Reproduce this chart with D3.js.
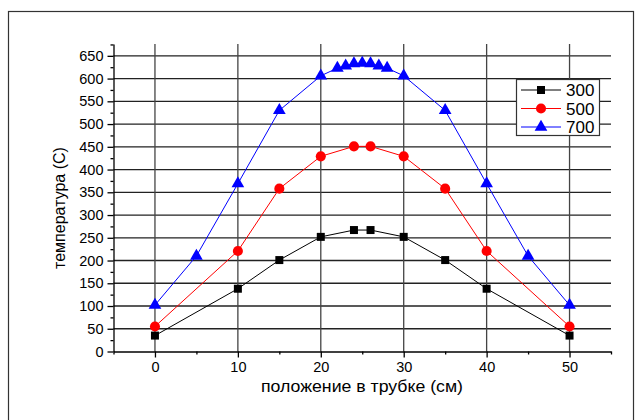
<!DOCTYPE html>
<html><head><meta charset="utf-8">
<script src="https://cdn.jsdelivr.net/npm/d3@7"></script>
<style>body{margin:0;background:#fff}svg{display:block}</style>
</head><body>
<script>
const xs300 = [0,10,15,20,24,26,30,35,40,50];
const ys300 = [35,138,201,252,267,267,252,201,138,35];
const xs500 = [0,10,15,20,24,26,30,35,40,50];
const ys500 = [55,221,358,429,451,451,429,358,221,55];
const xs700 = [0,5,10,15,20,22,23,24,25,26,27,28,30,35,40,45,50];
const ys700 = [102,210,369,530,606,623,628,633,634,633,628,623,606,530,369,210,102];
const seriesNames = ["300","500","700"];
const seriesColors = ["#000000","#ff0000","#0000ff"];
const xTicks = [0,10,20,30,40,50];
const yTicks = [0,50,100,150,200,250,300,350,400,450,500,550,600,650];
const xLabel = "положение в трубке (см)";
const yLabel = "температура (С)";

const W=636,H=420;
const svg=d3.select("body").append("svg").attr("width",W).attr("height",H);
svg.append("rect").attr("x",8.5).attr("y",11.5).attr("width",625).attr("height",420).attr("fill","none").attr("stroke","#333").attr("stroke-width",1.2);

const x=d3.scaleLinear().domain([-5,55]).range([113.5,611]);
const y=d3.scaleLinear().domain([0,676]).range([351.5,44]);
const font="'Liberation Sans', Arial, sans-serif";

const g=svg.append("g");
g.selectAll(".hg").data(yTicks.filter(d=>d>0)).enter().append("line")
 .attr("x1",x(-5)).attr("x2",x(55)).attr("y1",d=>y(d)).attr("y2",d=>y(d))
 .attr("stroke","#222").attr("stroke-width",1.3);
g.selectAll(".vg").data(xTicks).enter().append("line")
 .attr("x1",d=>x(d)).attr("x2",d=>x(d)).attr("y1",y(676)).attr("y2",y(0))
 .attr("stroke","#444").attr("stroke-width",1.3);

const yAxis=d3.axisLeft(y).tickValues(yTicks).tickSize(6).tickSizeOuter(0).tickPadding(4);
const yMinor=d3.axisLeft(y).tickValues(d3.range(25,676,50)).tickSize(3).tickFormat("").tickSizeOuter(0);
const xAxis=d3.axisBottom(x).tickValues(xTicks).tickSize(6).tickSizeOuter(0).tickPadding(4);
const xMinor=d3.axisBottom(x).tickValues([-5,5,15,25,35,45,55]).tickSize(3).tickFormat("").tickSizeOuter(0);

function styleAxis(sel){
  sel.selectAll("path,line").attr("stroke","#000").attr("stroke-width",1.3);
  sel.selectAll("text").attr("font-family",font).attr("font-size",14.5).attr("fill","#000");
}
const gy=svg.append("g").attr("transform",`translate(${x(-5)},0)`).call(yAxis); styleAxis(gy);
const gym=svg.append("g").attr("transform",`translate(${x(-5)},0)`).call(yMinor); styleAxis(gym); gym.select("path").remove();
const gx=svg.append("g").attr("transform",`translate(0,${y(0)})`).call(xAxis); styleAxis(gx);
const gxm=svg.append("g").attr("transform",`translate(0,${y(0)})`).call(xMinor); styleAxis(gxm); gxm.select("path").remove();

svg.append("text").attr("x",362).attr("y",392).attr("text-anchor","middle")
 .attr("font-family",font).attr("font-size",16).attr("textLength",202).attr("lengthAdjust","spacingAndGlyphs").text(xLabel);
svg.append("text").attr("transform","translate(65,208) rotate(-90)").attr("text-anchor","middle")
 .attr("font-family",font).attr("font-size",16).text(yLabel);

const data=[[xs300,ys300],[xs500,ys500],[xs700,ys700]];
const line=d3.line().x(d=>x(d[0])).y(d=>y(d[1]));
const symbols=[d3.symbolSquare,d3.symbolCircle,d3.symbolTriangle];
const sizes=[64,80,70];
data.forEach(([xs,ys],i)=>{
  const pts=xs.map((v,j)=>[v,ys[j]]);
  svg.append("path").datum(pts).attr("d",line).attr("fill","none").attr("stroke",seriesColors[i]).attr("stroke-width",1);
  svg.selectAll(".m"+i).data(pts).enter().append("path")
   .attr("transform",d=>`translate(${x(d[0])},${y(d[1])})`)
   .attr("d",d3.symbol().type(symbols[i]).size(sizes[i])).attr("fill",seriesColors[i]);
});

const lg=svg.append("g");
lg.append("rect").attr("x",516.5).attr("y",79.5).attr("width",83).attr("height",56).attr("fill","#fff").attr("stroke","#333").attr("stroke-width",1.2);
seriesNames.forEach((n,i)=>{
  const yy=90+i*18.5;
  lg.append("line").attr("x1",521).attr("x2",561).attr("y1",yy).attr("y2",yy).attr("stroke",seriesColors[i]).attr("stroke-width",1);
  lg.append("path").attr("transform",`translate(541,${yy})`).attr("d",d3.symbol().type(symbols[i]).size(sizes[i])).attr("fill",seriesColors[i]);
  lg.append("text").attr("x",566).attr("y",yy+6).attr("font-family",font).attr("font-size",17).text(n);
});
</script>
</body></html>
